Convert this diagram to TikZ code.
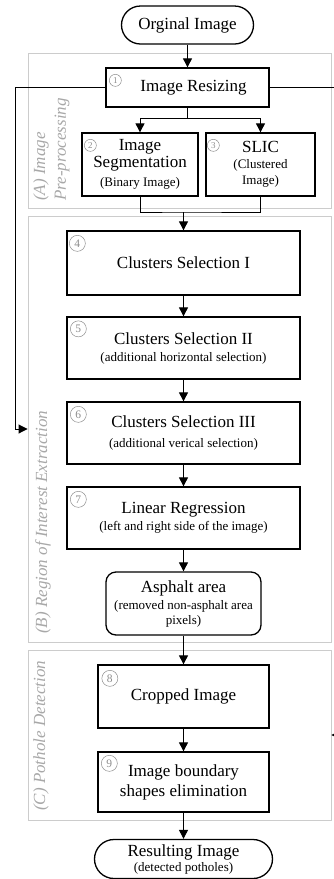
\documentclass[tikz,border=0pt]{standalone}
\usepackage{fontspec}
\setmainfont{Liberation Serif}
\usetikzlibrary{arrows.meta,calc}
\newcommand\mainfs{\fontsize{17}{20}\selectfont}
\newcommand\subfs{\fontsize{13}{16}\selectfont}
\newcommand\labfs{\fontsize{17}{20}\selectfont\itshape}
\definecolor{grpline}{HTML}{CCCCCC}
\definecolor{grptext}{HTML}{A8A8A8}
\definecolor{numgray}{HTML}{8C8C8C}
\begin{document}
\begin{tikzpicture}[x=1pt,y=-1pt,
  stepbox/.style={draw=black, line width=1.3pt, rectangle, inner sep=0pt, align=center, font=\mainfs},
  termbox/.style={stepbox, rounded corners=19pt},
  softbox/.style={stepbox, rounded corners=10pt},
  group/.style={draw=grpline, line width=0.9pt, rectangle, inner sep=0pt},
  grplabel/.style={text=grptext, font=\labfs, rotate=90, anchor=west, inner sep=0pt, align=left},
  flow/.style={line width=0.9pt, -{Triangle[length=9pt,width=9pt]}},
  plain/.style={line width=0.9pt},
  numsm/.style={circle, draw=numgray, text=numgray, line width=0.5pt, inner sep=0pt, minimum size=12pt, font=\fontsize{9}{9}\selectfont},
  numlg/.style={circle, draw=numgray, text=numgray, line width=0.5pt, inner sep=0pt, minimum size=16pt, font=\fontsize{11.5}{11.5}\selectfont}
]
\useasboundingbox (0,0) rectangle (333,879);

% stage frames
\node[group, minimum width=303pt, minimum height=155pt] (grpA) at (179.5,130.5) {};
\node[group, minimum width=303pt, minimum height=426pt] (grpB) at (179.5,429) {};
\node[group, minimum width=303pt, minimum height=170pt] (grpC) at (179.5,735) {};

% stage titles
\node[grplabel] (labA1) at (41,201) {(A) Image};
\node[grplabel] (labA2) at (62,201) {Pre-processing};
\node[grplabel] (labB) at (43,634) {(B) Region of Interest Extraction};
\node[grplabel] (labC) at (41,811) {(C) Pothole Detection};

% processing steps
\node[termbox, minimum width=132pt, minimum height=38pt] (orig) at (187.5,25) {Orginal Image};
\node[stepbox, minimum width=163pt, minimum height=39pt] (resize) at (187.5,87.5) {\hspace*{12pt}Image Resizing};
\node[stepbox, minimum width=116pt, minimum height=63pt] (seg) at (140,164.5)
  {Image\\[-3pt]Segmentation\\[-1pt]{\subfs (Binary Image)}};
\node[stepbox, minimum width=109pt, minimum height=63pt] (slic) at (260.5,164.5)
  {SLIC\\[-4pt]{\subfs (Clustered}\\[-4pt]{\subfs Image)}};
\node[stepbox, minimum width=233pt, minimum height=64pt] (c1) at (183.5,263) {Clusters Selection I};
\node[stepbox, minimum width=233pt, minimum height=62pt] (c2) at (183.5,348)
  {Clusters Selection II\\[-3pt]{\subfs (additional horizontal selection)}};
\node[stepbox, minimum width=233pt, minimum height=62pt] (c3) at (183.5,433)
  {Clusters Selection III\\[0pt]{\subfs (additional verical selection)}};
\node[stepbox, minimum width=233pt, minimum height=62pt] (lr) at (183.5,518)
  {Linear Regression\\[-3pt]{\subfs (left and right side of the image)}};
\node[softbox, minimum width=155pt, minimum height=63pt] (asph) at (183.5,603.5)
  {Asphalt area\\[-3pt]{\subfs (removed non-asphalt area}\\[-5pt]{\subfs pixels)}};
\node[stepbox, minimum width=171pt, minimum height=63pt] (crop) at (183.5,696.5) {Cropped Image};
\node[stepbox, minimum width=171pt, minimum height=60pt] (elim) at (183.5,782)
  {Image boundary\\shapes elimination};
\node[termbox, minimum width=178pt, minimum height=39pt, rounded corners=19.5pt] (result) at (183.5,859)
  {Resulting Image\\[-5pt]{\subfs (detected potholes)}};

% step numbers
\node[numsm] (n1) at ($(resize.north west)+(10,13)$) {1};
\node[numsm] (n2) at ($(seg.north west)+(9,13)$) {2};
\node[numsm] (n3) at ($(slic.north west)+(8,13)$) {3};
\node[numlg] (n4) at ($(c1.north west)+(11,13)$) {4};
\node[numlg] (n5) at ($(c2.north west)+(12,12.5)$) {5};
\node[numlg] (n6) at ($(c3.north west)+(12,13)$) {6};
\node[numlg] (n7) at ($(lr.north west)+(12,13)$) {7};
\node[numlg] (n8) at ($(crop.north west)+(12.5,14)$) {8};
\node[numlg] (n9) at ($(elim.north west)+(12,12)$) {9};

% connectors
\coordinate (split) at (187.5,118);
\coordinate (merge) at (183.5,212);
\coordinate (fbL) at (15,0);
\coordinate (fbR) at (342,0);

\draw[flow] (orig.south) -- (resize.north);
\draw[plain] (resize.south) -- (split);
\draw[flow] (split) -| (seg.north);
\draw[flow] (split) -| (slic.north);
\draw[plain] (seg.south) |- (merge) -| (slic.south);
\draw[flow] (merge) -- (c1.north);
\draw[flow] (c1.south) -- (c2.north);
\draw[flow] (c2.south) -- (c3.north);
\draw[flow] (c3.south) -- (lr.north);
\draw[flow] (lr.south) -- (asph.north);
\draw[flow] (asph.south) -- (crop.north);
\draw[flow] (crop.south) -- (elim.north);
\draw[flow] (elim.south) -- (result.north);

% bypass lines from the resizing step
\draw[flow] (resize.west) -- (resize.west -| fbL) |- (grpB.west);
\draw[flow] (resize.east) -- (resize.east -| fbR) |- (grpC.east);
\end{tikzpicture}
\end{document}
